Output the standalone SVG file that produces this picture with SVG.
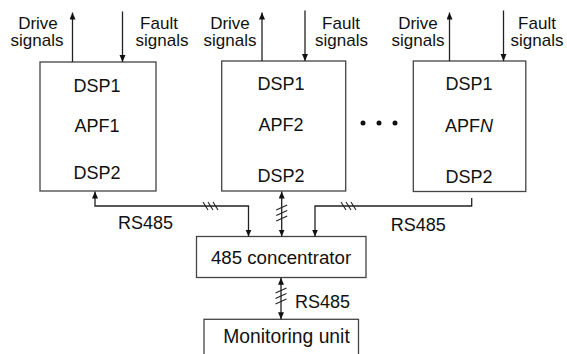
<svg xmlns="http://www.w3.org/2000/svg" width="567" height="354" viewBox="0 0 567 354">
<style>
text{font-family:"Liberation Sans",Arial,sans-serif;fill:#111;}
.lab{font-size:17px;text-anchor:middle;}
.box{fill:#fff;stroke:#444;stroke-width:1.3;}
.in{font-size:18px;text-anchor:middle;}
.c{fill:none;stroke:#222;stroke-width:1.3;}
.sl{fill:none;stroke:#222;stroke-width:1.1;}
</style>
<defs>
<marker id="ah" markerUnits="userSpaceOnUse" markerWidth="8" markerHeight="7" refX="7" refY="3" orient="auto-start-reverse"><path d="M0,0 L7,3 L0,6 z" fill="#111"/></marker>
</defs>
<rect width="567" height="354" fill="#fff"/>
<g id="apf1">
<rect class="box" x="40" y="62" width="116" height="129"/>
<text class="in" x="97" y="91.5">DSP1</text>
<text class="in" x="97" y="131.5">APF1</text>
<text class="in" x="97" y="179">DSP2</text>
</g>
<g id="apf2">
<rect class="box" x="221.7" y="61" width="124" height="130"/>
<text class="in" x="281" y="90">DSP1</text>
<text class="in" x="281" y="131">APF2</text>
<text class="in" x="281" y="181.5">DSP2</text>
</g>
<g id="apfN">
<rect class="box" x="413.3" y="61" width="112.5" height="130.5"/>
<text class="in" x="469" y="90">DSP1</text>
<text class="in" x="469" y="131.5">APF<tspan font-style="italic">N</tspan></text>
<text class="in" x="469" y="183">DSP2</text>
</g>
<g id="dots" fill="#111">
<circle cx="363" cy="123" r="2.5"/>
<circle cx="379" cy="123" r="2.5"/>
<circle cx="395" cy="123" r="2.5"/>
</g>
<g id="concentrator">
<rect class="box" x="196.5" y="236.5" width="169.5" height="41"/>
<text x="281" y="263.5" font-size="18.7" text-anchor="middle">485 concentrator</text>
</g>
<g id="monitoring">
<rect class="box" x="204" y="319.3" width="154.5" height="40"/>
<text x="286.5" y="343.3" font-size="19.3" text-anchor="middle">Monitoring unit</text>
</g>
<g id="labels">
<text class="lab" x="38" y="28.5">Drive</text>
<text class="lab" x="37" y="46">signals</text>
<text class="lab" x="159" y="28.5">Fault</text>
<text class="lab" x="162" y="46">signals</text>
<text class="lab" x="230" y="28.5">Drive</text>
<text class="lab" x="230" y="46">signals</text>
<text class="lab" x="341" y="28.5">Fault</text>
<text class="lab" x="341.5" y="46">signals</text>
<text class="lab" x="418" y="28.5">Drive</text>
<text class="lab" x="418" y="46">signals</text>
<text class="lab" x="537" y="28.5">Fault</text>
<text class="lab" x="537" y="46">signals</text>
<text x="118" y="229" font-size="18">RS485</text>
<text x="390.7" y="230.5" font-size="18">RS485</text>
<text x="295" y="308.3" font-size="18">RS485</text>
</g>
<g id="connectors">
<path class="c" d="M72.5,62 V12.5" marker-end="url(#ah)"/>
<path class="c" d="M122.5,11.5 V62" marker-end="url(#ah)"/>
<path class="c" d="M262,61 V12.5" marker-end="url(#ah)"/>
<path class="c" d="M305,10.5 V61" marker-end="url(#ah)"/>
<path class="c" d="M449.5,61 V12.5" marker-end="url(#ah)"/>
<path class="c" d="M503.5,10.5 V61" marker-end="url(#ah)"/>
<path class="c" d="M95,191.5 V206 H248.5 V236.5" marker-start="url(#ah)" marker-end="url(#ah)"/>
<path class="c" d="M471.7,198 V206 H315 V236.5" marker-end="url(#ah)"/>
<path class="c" d="M281.7,191.5 V236.5" marker-start="url(#ah)" marker-end="url(#ah)"/>
<path class="c" d="M281,277.7 V319.3" marker-start="url(#ah)" marker-end="url(#ah)"/>
<path class="sl" d="M203,202 l5,8 M208,202 l5,8 M213,202 l5,8"/>
<path class="sl" d="M341,202 l5,8 M346,202 l5,8 M351,202 l5,8"/>
<path class="sl" d="M276.2,210 l11,-5 M276.2,215.5 l11,-5 M276.2,221 l11,-5"/>
<path class="sl" d="M275.5,293 l11,-5 M275.5,298.5 l11,-5 M275.5,304 l11,-5"/>
</g>
</svg>
